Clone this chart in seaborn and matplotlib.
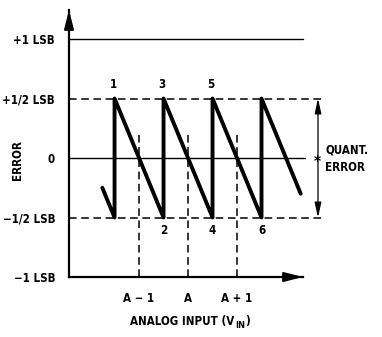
import matplotlib
matplotlib.use("Agg")
import matplotlib.pyplot as plt
import numpy as np
import pandas as pd
import seaborn as sns

# ---- data (x in LSB units, A = 0; y in LSB) ----
saw_x = [-1.75, -1.5, -1.5, -0.5, -0.5, 0.5, 0.5, 1.5, 1.5, 2.3]
saw_y = [-0.25, -0.5, 0.5, -0.5, 0.5, -0.5, 0.5, -0.5, 0.5, -0.3]
y_ticks = [-1, -0.5, 0, 0.5, 1]
y_tick_labels = ["\u22121 LSB", "\u22121/2 LSB", "0", "+1/2 LSB", "+1 LSB"]
x_ticks = [-1, 0, 1]
x_tick_labels = ["A \u2212 1", "A", "A + 1"]
peak_labels = ["1", "3", "5"]
peak_x = [-1.5, -0.5, 0.5]
trough_labels = ["2", "4", "6"]
trough_x = [-0.5, 0.5, 1.5]
quant_top = 0.5
quant_bottom = -0.5

sns.set_style("white")
plt.rcParams["font.family"] = ["DejaVu Sans"]
plt.rcParams["font.weight"] = "bold"
plt.rcParams["font.stretch"] = "condensed"
plt.rcParams["text.color"] = "black"
plt.rcParams["xtick.color"] = "black"
plt.rcParams["ytick.color"] = "black"

fs = 8.3
fig = plt.figure(figsize=(3.82, 3.37), dpi=100)
ax = fig.add_axes([69 / 382, 60 / 337, 234 / 382, 267 / 337])
ax.set_xlim(-2.43, 2.347)
ax.set_ylim(-1, 1.244)

df = pd.DataFrame({"x": saw_x, "y": saw_y})
sns.lineplot(data=df, x="x", y="y", sort=False, estimator=None,
             color="black", lw=2.8, ax=ax, zorder=5)

x_left = -2.43
x_dash_end = 2.755
# solid reference lines
ax.plot([x_left, 2.347], [1, 1], color="black", lw=1.0, clip_on=False)
ax.plot([x_left, 2.39], [0, 0], color="black", lw=1.0, clip_on=False)
# dashed half-LSB lines
for yv in (quant_top, quant_bottom):
    ax.plot([x_left, x_dash_end], [yv, yv], color="black", lw=1.1,
            linestyle=(0, (5, 3)), clip_on=False)
# dashed verticals at code centers
for xv in x_ticks:
    ax.plot([xv, xv], [-1, 0.22], color="black", lw=1.1,
            linestyle=(0, (5, 3)), clip_on=False)

# spines
for s in ("top", "right"):
    ax.spines[s].set_visible(False)
for s in ("left", "bottom"):
    ax.spines[s].set_linewidth(1.6)
    ax.spines[s].set_color("black")

# axis arrow heads
ax.annotate("", xy=(x_left, 1.244), xytext=(x_left, 1.10),
            arrowprops=dict(arrowstyle="-|>,head_length=1.1,head_width=0.28",
                            lw=1.6, color="black", shrinkA=0, shrinkB=0,
                            mutation_scale=10), annotation_clip=False)
ax.annotate("", xy=(2.347, -1), xytext=(2.1, -1),
            arrowprops=dict(arrowstyle="-|>,head_length=1.1,head_width=0.28",
                            lw=1.6, color="black", shrinkA=0, shrinkB=0,
                            mutation_scale=10), annotation_clip=False)

# quantization error double arrow
ax.annotate("", xy=(2.653, quant_top), xytext=(2.653, quant_bottom),
            arrowprops=dict(arrowstyle="<|-|>,head_length=0.9,head_width=0.2",
                            lw=0.9, color="black", shrinkA=0, shrinkB=0,
                            mutation_scale=10), annotation_clip=False)
ax.text(2.633, -0.04, "*", fontsize=11, ha="center", va="center")
ax.text(2.80, 0.067, "QUANT.", fontsize=fs, ha="left", va="center")
ax.text(2.80, -0.076, "ERROR", fontsize=fs, ha="left", va="center")

# ticks
ax.set_yticks(y_ticks)
ax.set_yticklabels(y_tick_labels, fontsize=fs, fontweight="bold")
ax.set_xticks(x_ticks)
ax.set_xticklabels(x_tick_labels, fontsize=fs, fontweight="bold")
ax.tick_params(axis="y", length=0, pad=10)
ax.tick_params(axis="x", length=0, pad=11)

# peak / trough labels
for lab, xv in zip(peak_labels, peak_x):
    ax.text(xv - 0.03, 0.62, lab, fontsize=fs, ha="center", va="center")
for lab, xv in zip(trough_labels, trough_x):
    ax.text(xv, -0.605, lab, fontsize=fs, ha="center", va="center")

ax.set_ylabel("")
ax.set_xlabel("")
fig.text(17 / 382, 1 - 160 / 337, "ERROR", rotation=90, fontsize=fs,
         ha="center", va="center")
# x-axis title with manual subscript
t1 = fig.text(0.0, 1 - 322 / 337, "ANALOG INPUT (V", fontsize=fs,
              ha="left", va="center")
t2 = fig.text(0.0, 1 - 325 / 337, "IN", fontsize=fs * 0.8,
              ha="left", va="center")
t3 = fig.text(0.0, 1 - 322 / 337, ")", fontsize=fs, ha="left", va="center")
fig.canvas.draw()
r = fig.canvas.get_renderer()
w1 = t1.get_window_extent(r).width
w2 = t2.get_window_extent(r).width
w3 = t3.get_window_extent(r).width
total = w1 + w2 + w3
x0 = 190 - total / 2
t1.set_x(x0 / 382)
t2.set_x((x0 + w1) / 382)
t3.set_x((x0 + w1 + w2) / 382)

fig.savefig("out.png", dpi=100)
